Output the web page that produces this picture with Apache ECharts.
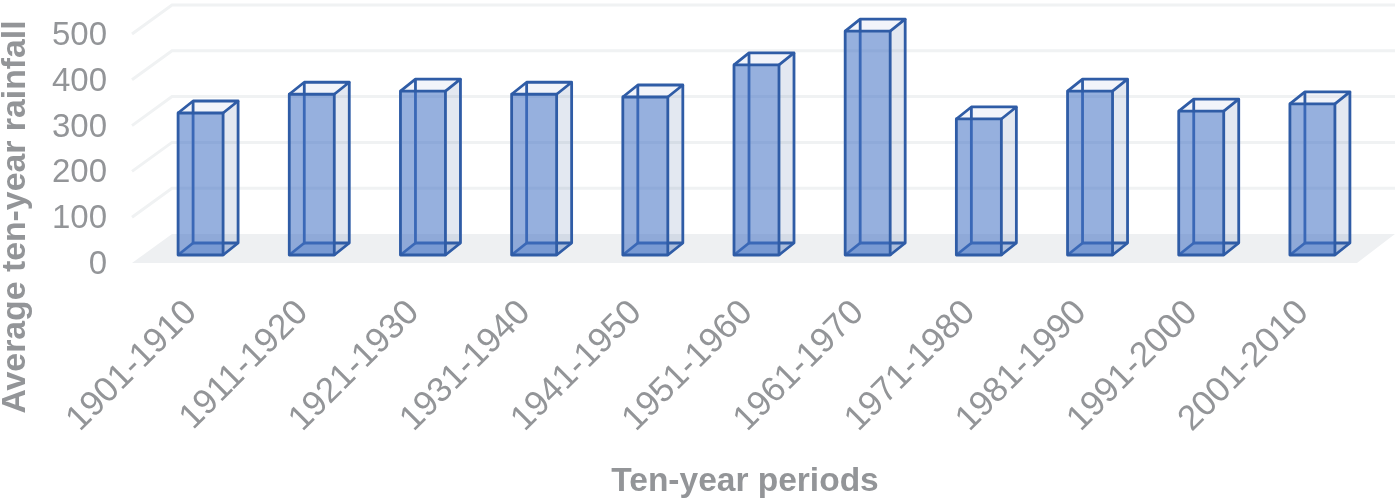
<!DOCTYPE html>
<html><head><meta charset="utf-8">
<style>html,body{margin:0;padding:0;background:#fff}#c{width:1400px;height:503px}</style>
<script src="https://cdn.jsdelivr.net/npm/echarts@6/dist/echarts.min.js"></script>
</head><body><div id="c"></div>
<script>
var categories = ['1901-1910','1911-1920','1921-1930','1931-1940','1941-1950','1951-1960','1961-1970','1971-1980','1981-1990','1991-2000','2001-2010'];
var rainfall = [310,351,358,351,345,415,489,297,358,314,330];
var gridValues = [0,100,200,300,400,500];
var xTitle = 'Ten-year periods';
var yTitle = 'Average ten-year rainfall';

var INK = '#939598', EDGE = '#2f5ca6';
var chart = echarts.init(document.getElementById('c'));

function wallItem(params, api) {
  var v = api.value(0);
  var l = api.coord([0, v]), r = api.coord([categories.length - 1, v]);
  var band = api.size([1, 0])[0];
  var x0 = l[0] - band / 2 - 13, x1 = r[0] + band / 2 - 11, y = l[1];
  var dx = 40, dy = -29;
  var style = {stroke: '#f0f2f3', lineWidth: 3, fill: null};
  var kids = [];
  if (v === 0) {
    kids.push({type: 'polygon', shape: {points: [[x0, y], [x1, y], [x1 + dx - 2, y + dy], [x0 + dx, y + dy]]},
      style: {fill: '#eef0f2', stroke: null}});
  } else {
    kids.push({type: 'polyline', shape: {points: [[x0, y], [x0 + dx, y + dy], [x1 + dx - 2, y + dy]]}, style: style});
  }
  return {type: 'group', children: kids};
}

function barItem(params, api) {
  var i = api.value(0), v = api.value(1);
  var t = api.coord([i, v]), b = api.coord([i, 0]);
  var w = 45, dx = 15, dy = -12, lift = -8;
  var xL = t[0] - w / 2, xR = xL + w, yT = t[1] + lift, yB = b[1] + lift;
  var edge = {stroke: EDGE, lineWidth: 2.8, fill: null, lineJoin: 'round'};
  function poly(pts, fill) {
    return {type: 'polygon', shape: {points: pts}, style: {fill: fill, stroke: null}};
  }
  function line(pts) {
    return {type: 'polyline', shape: {points: pts}, style: edge};
  }
  return {type: 'group', children: [
    poly([[xR, yT], [xR + dx, yT + dy], [xR + dx, yB + dy], [xR, yB]], 'rgba(68,100,160,0.15)'),
    poly([[xL, yT], [xL + dx, yT + dy], [xR + dx, yT + dy], [xR, yT]], 'rgba(68,100,180,0.07)'),
    poly([[xL, yB], [xL + dx, yB + dy], [xR + dx, yB + dy], [xR, yB]], 'rgba(68,114,196,0.28)'),
    line([[xL + dx, yT + dy], [xL + dx, yB + dy], [xR + dx, yB + dy]]),
    line([[xL, yB], [xL + dx, yB + dy]]),
    poly([[xL, yT], [xR, yT], [xR, yB], [xL, yB]], 'rgba(68,114,196,0.56)'),
    {type: 'polygon', shape: {points: [[xL, yT], [xR, yT], [xR, yB], [xL, yB]]}, style: edge},
    line([[xL, yT], [xL + dx, yT + dy], [xR + dx, yT + dy], [xR, yT]]),
    line([[xR + dx, yT + dy], [xR + dx, yB + dy], [xR, yB]])
  ]};
}

chart.setOption({
  animation: false,
  grid: {left: 145, right: 32, top: 34, bottom: 240, containLabel: false, outerBoundsMode: 'none'},
  xAxis: {
    type: 'category', data: categories,
    axisLine: {show: false}, axisTick: {show: false}, splitLine: {show: false},
    axisLabel: {rotate: 45, interval: 0, margin: 35, padding: [0, 13, 0, 0], color: INK, fontFamily: 'Liberation Sans', fontSize: 35}
  },
  yAxis: {
    type: 'value', min: 0, max: 500, interval: 100,
    axisLine: {show: false}, axisTick: {show: false}, splitLine: {show: false},
    axisLabel: {margin: 38, verticalAlign: 'top', lineHeight: 4, color: INK, fontFamily: 'Liberation Sans', fontSize: 33}
  },
  graphic: [
    {type: 'text', x: 745, y: 482, style: {text: xTitle, fill: INK, font: 'bold 33.5px "Liberation Sans"', align: 'center', verticalAlign: 'middle'}},
    {type: 'text', x: 16, y: 217, rotation: Math.PI / 2, style: {text: yTitle, fill: INK, font: 'bold 33.8px "Liberation Sans"', align: 'center', verticalAlign: 'middle'}}
  ],
  series: [
    {type: 'custom', silent: true, clip: false, coordinateSystem: 'cartesian2d',
     encode: {y: 0}, data: gridValues.map(function (v) { return [v]; }), renderItem: wallItem, z: 1},
    {type: 'custom', silent: true, clip: false, coordinateSystem: 'cartesian2d',
     encode: {x: 0, y: 1}, data: rainfall.map(function (v, i) { return [i, v]; }), renderItem: barItem, z: 2}
  ]
});
</script></body></html>
